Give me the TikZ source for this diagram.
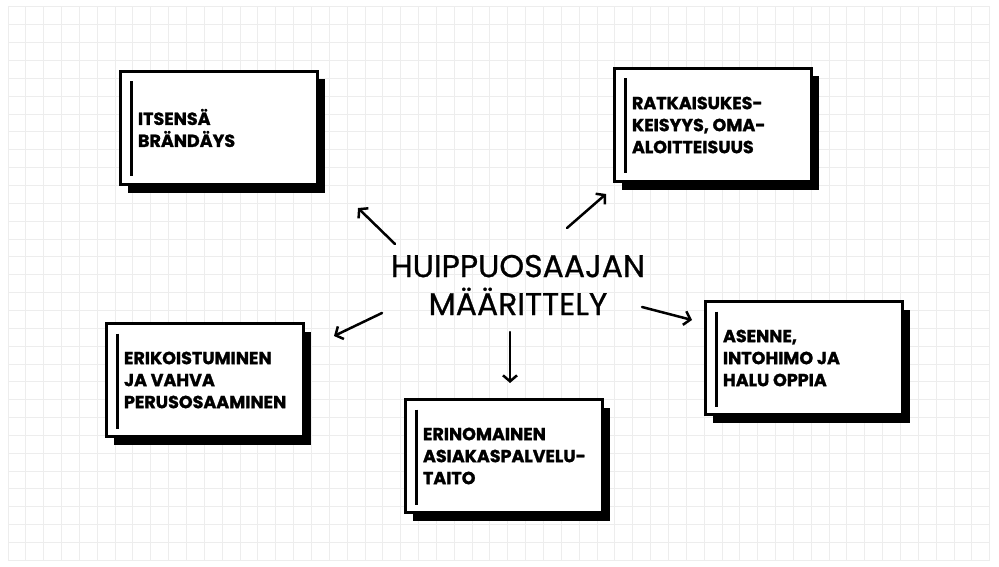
\documentclass[tikz,border=0pt]{standalone}
\usepackage{fontspec}
\setmainfont{Poppins}
\newfontfamily\korttifont{Poppins}[BoldFeatures={FakeBold=1.3}]
\newfontfamily\otsikkofont{Poppins}[FakeBold=0.8]
\usetikzlibrary{arrows.meta, shadows}
\tikzset{%
    ruutu/.style={line width = 1pt, black!7},
    kortti/.style={rectangle, draw, line width = 3pt, fill=white,
        minimum width=197pt, minimum height=113pt, text width=162pt,
        inner xsep=17.5pt, align=flush left,
        font=\korttifont\fontsize{17.5}{22}\selectfont\bfseries,
        drop shadow={shadow xshift=7pt, shadow yshift=-8pt, fill=black, opacity=1},
        path picture={\draw[line width=2.5pt]
            ([xshift=11pt,yshift=-10pt]path picture bounding box.north west) --
            ([xshift=11pt,yshift=8pt]path picture bounding box.south west);}},
    otsikko/.style={align=center, font=\otsikkofont\fontsize{31.5}{38}\selectfont},
    nuoli/.style={line width = 2.5pt, line cap=round, -{Straight Barb[length=6pt, width=14pt, line width=2.5pt]}},
}
\begin{document}
\begin{tikzpicture}[x=1pt, y=-1pt]
    \useasboundingbox (0,0) rectangle (999,567);
    \foreach \i in {0,...,55}
        \draw [ruutu] (8+\i*17.85,7) -- (8+\i*17.85,560);
    \foreach \j in {0,...,31}
        \draw [ruutu] (8,7+\j*17.85) -- (990,7+\j*17.85);

    \draw node[otsikko] (huippu) at (518,285) {HUIPPUOSAAJAN\\MÄÄRITTELY};

    \draw node[kortti] (brand) at (219,128) {ITSENSÄ\\BRÄNDÄYS};
    \draw node[kortti] (ratk) at (713,125) {\mbox{RATKAISUKES-}\\\mbox{KEISYYS, OMA-}\\ALOITTEISUUS};
    \draw node[kortti] (erik) at (205,380) {ERIKOISTUMINEN\\JA VAHVA\\PERUSOSAAMINEN};
    \draw node[kortti] (asia) at (504,456) {ERINOMAINEN\\\mbox{ASIAKASPALVELU-}\\TAITO};
    \draw node[kortti] (asen) at (804,358) {ASENNE,\\INTOHIMO JA\\HALU OPPIA};

    \coordinate (n1a) at (395,244);
    \coordinate (n1b) at (358,208);
    \coordinate (n2a) at (567,228);
    \coordinate (n2b) at (606,194);
    \coordinate (n3a) at (382,313);
    \coordinate (n3b) at (334,336);
    \coordinate (n4a) at (510,332);
    \coordinate (n4b) at (510,383);
    \coordinate (n5a) at (642,307);
    \coordinate (n5b) at (692,320);
    \draw [nuoli] (n1a) -- (n1b);
    \draw [nuoli] (n2a) -- (n2b);
    \draw [nuoli] (n3a) -- (n3b);
    \draw [nuoli] (n4a) -- (n4b);
    \draw [nuoli] (n5a) -- (n5b);
\end{tikzpicture}
\end{document}
